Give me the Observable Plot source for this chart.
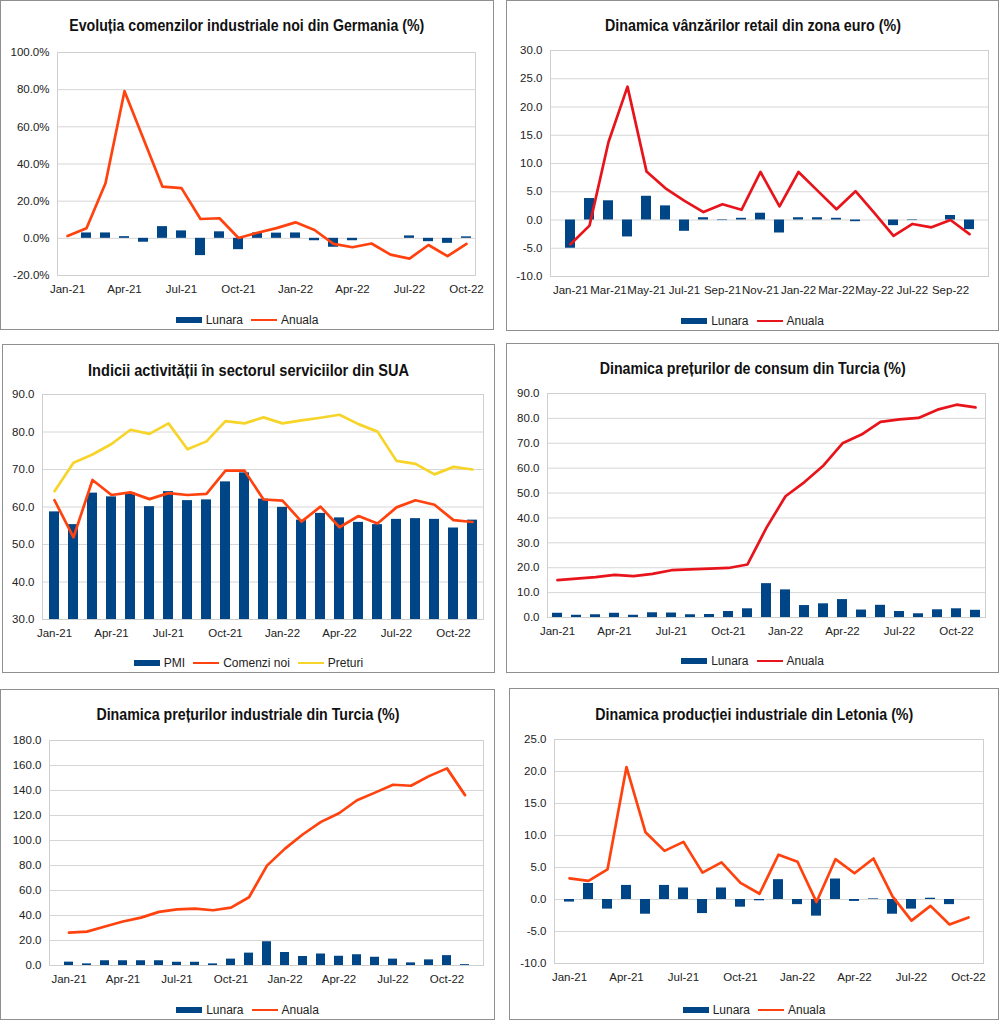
<!DOCTYPE html>
<html>
<head>
<meta charset="utf-8">
<script src="https://cdn.jsdelivr.net/npm/d3@7"></script>
<script src="https://cdn.jsdelivr.net/npm/@observablehq/plot@0.6"></script>
<style>
  html, body { margin: 0; padding: 0; background: #fff; }
  body { position: relative; width: 1000px; height: 1020px; overflow: hidden; font-family: "Liberation Sans", Arial, sans-serif; }
  .panel { position: absolute; border: 1px solid #8f8f8f; box-sizing: border-box; }
  .title { position: absolute; text-align: center; white-space: nowrap; }
  .title span { display: inline-block; font-family: "Liberation Sans", Arial, sans-serif; font-weight: bold; font-size: 16.5px; color: #111; line-height: 20px; transform-origin: 50% 50%; }
  .legend { position: absolute; display: flex; justify-content: center; align-items: center; font-size: 12px; color: #222; line-height: 14px; white-space: nowrap; }
  .legend .item { display: flex; align-items: center; margin: 0 4px; }
  .legend .sw { display: inline-block; width: 26px; margin-right: 4px; }
  .plot { position: absolute; }
</style>
</head>
<body>
<script>
// ---------- categories ----------
const months = ["Jan-21","Feb-21","Mar-21","Apr-21","May-21","Jun-21","Jul-21","Aug-21","Sep-21","Oct-21","Nov-21","Dec-21",
                "Jan-22","Feb-22","Mar-22","Apr-22","May-22","Jun-22","Jul-22","Aug-22","Sep-22","Oct-22","Nov-22"];
const months22 = months.slice(0, 22);
const ticksQuarter = ["Jan-21","Apr-21","Jul-21","Oct-21","Jan-22","Apr-22","Jul-22","Oct-22"];
const ticksBimonth = ["Jan-21","Mar-21","May-21","Jul-21","Sep-21","Nov-21","Jan-22","Mar-22","May-22","Jul-22","Sep-22"];

// ---------- 1. Germania: comenzi industriale (%) ----------
const germLunara = [null, 2.9, 2.9, 0.9, -2.1, 6.3, 4.0, -9.3, 3.5, -6.1, 2.9, 2.8, 2.9, -1.3, -4.8, -1.3, 0, 0, 1.3, -1.8, -2.7, 0.8];
const germAnuala = [1.3, 5.4, 29.6, 79.2, 53.5, 27.8, 27.0, 10.4, 10.8, 0.2, 3.0, 5.5, 8.6, 4.5, -3.0, -4.8, -2.8, -8.8, -10.9, -3.6, -9.6, -3.0];

// ---------- 2. Zona euro: vanzari retail (%) ----------
const euroLunara = [-5.0, 3.8, 3.4, -3.0, 4.2, 2.5, -2.0, 0.4, -0.1, 0.3, 1.2, -2.3, 0.4, 0.4, 0.3, -0.3, 0, -1.0, -0.1, 0, 0.8, -1.7];
const euroAnuala = [-4.3, -1.0, 13.8, 23.6, 8.6, 5.6, 3.4, 1.4, 2.8, 1.8, 8.5, 2.4, 8.5, 5.2, 1.9, 5.1, 1.2, -2.8, -0.7, -1.3, 0.0, -2.5];

// ---------- 3. SUA: servicii ----------
const usPMI     = [58.7, 55.3, 63.7, 62.7, 63.8, 60.1, 64.1, 61.7, 61.9, 66.7, 69.1, 62.1, 59.9, 56.5, 58.3, 57.1, 55.9, 55.3, 56.7, 56.9, 56.7, 54.4, 56.5];
const usComenzi = [61.8, 51.9, 67.2, 63.2, 63.9, 62.1, 63.7, 63.2, 63.5, 69.7, 69.7, 62.0, 61.7, 56.1, 60.1, 54.6, 57.6, 55.6, 59.9, 61.8, 60.6, 56.5, 56.0];
const usPreturi = [64.2, 71.8, 74.0, 76.8, 80.6, 79.5, 82.3, 75.4, 77.5, 82.9, 82.3, 83.9, 82.3, 83.1, 83.8, 84.6, 82.1, 80.1, 72.3, 71.5, 68.7, 70.7, 70.0];

// ---------- 4. Turcia: preturi de consum (%) ----------
const trCpiLunara = [1.7, 0.9, 1.1, 1.7, 0.9, 1.9, 1.8, 1.1, 1.2, 2.4, 3.5, 13.6, 11.1, 4.8, 5.5, 7.2, 3.0, 4.9, 2.4, 1.5, 3.1, 3.5, 2.9];
const trCpiAnuala = [15.0, 15.6, 16.2, 17.1, 16.6, 17.5, 19.0, 19.3, 19.6, 19.9, 21.3, 36.1, 48.7, 54.4, 61.1, 70.0, 73.5, 78.6, 79.6, 80.2, 83.5, 85.5, 84.4];

// ---------- 5. Turcia: preturi industriale (%) ----------
const trPpiLunara = [2.7, 1.3, 3.8, 3.8, 3.8, 3.8, 2.6, 2.6, 1.3, 5.1, 9.9, 19.0, 10.4, 7.2, 9.2, 7.4, 8.6, 6.6, 5.1, 2.1, 4.5, 7.9, 0.7];
const trPpiAnuala = [26.3, 27.1, 31.2, 35.2, 38.3, 42.9, 44.9, 45.5, 44.2, 46.3, 54.6, 79.9, 93.5, 105.0, 114.9, 121.8, 132.2, 138.3, 144.6, 143.8, 151.5, 157.7, 136.3];

// ---------- 6. Letonia: productie industriala (%) ----------
const lvLunara = [-0.4, 2.5, -1.5, 2.2, -2.3, 2.2, 1.8, -2.2, 1.8, -1.2, -0.2, 3.1, -0.8, -2.6, 3.2, -0.3, 0.1, -2.3, -1.5, 0.2, -0.8, 0];
const lvAnuala = [3.3, 2.9, 4.7, 20.7, 10.5, 7.6, 9.0, 4.2, 5.8, 2.6, 0.9, 7.0, 5.9, -0.4, 6.3, 4.1, 6.4, 0.5, -3.3, -1.0, -3.9, -2.8];

// ---------- colours ----------
const BLUE = "#004586", ORANGE = "#ff420e", RED = "#e8141b", YELLOW = "#f7d42a";

const fmt1 = d => d.toFixed(1);
const fmtPct = d => d.toFixed(1) + "%";

const panels = [
  {
    title: "Evoluția comenzilor industriale noi din Germania (%)", titleW: 355,
    box: {x: 0, y: 0, w: 494, h: 330}, titleY: 25, legendY: 320,
    frame: {l: 57, r: 475, t: 52, b: 275},
    cats: months22, xticks: ticksQuarter, yDomain: [-20, 100], yTicks: [-20, 0, 20, 40, 60, 80, 100], yFmt: fmtPct,
    bars: [{name: "Lunara", values: germLunara, color: BLUE}],
    lines: [{name: "Anuala", values: germAnuala, color: ORANGE}]
  },
  {
    title: "Dinamica vânzărilor retail din zona euro (%)", titleW: 296,
    box: {x: 506, y: 0, w: 493, h: 331}, titleY: 25, legendY: 321,
    frame: {l: 550, r: 988, t: 50, b: 276},
    cats: months22, xticks: ticksBimonth, yDomain: [-10, 30], yTicks: [-10, -5, 0, 5, 10, 15, 20, 25, 30], yFmt: fmt1,
    bars: [{name: "Lunara", values: euroLunara, color: BLUE}],
    lines: [{name: "Anuala", values: euroAnuala, color: RED}]
  },
  {
    title: "Indicii activității în sectorul serviciilor din SUA", titleW: 321,
    box: {x: 2, y: 344, w: 493, h: 329}, titleY: 370, legendY: 663,
    frame: {l: 42, r: 483, t: 394, b: 619},
    cats: months, xticks: ticksQuarter, yDomain: [30, 90], yTicks: [30, 40, 50, 60, 70, 80, 90], yFmt: fmt1,
    bars: [{name: "PMI", values: usPMI, color: BLUE}],
    lines: [{name: "Comenzi noi", values: usComenzi, color: ORANGE}, {name: "Preturi", values: usPreturi, color: YELLOW}]
  },
  {
    title: "Dinamica prețurilor de consum din Turcia (%)", titleW: 306,
    box: {x: 506, y: 343, w: 493, h: 330}, titleY: 368, legendY: 661,
    frame: {l: 547, r: 985, t: 393, b: 617},
    cats: months, xticks: ticksQuarter, yDomain: [0, 90], yTicks: [0, 10, 20, 30, 40, 50, 60, 70, 80, 90], yFmt: fmt1,
    bars: [{name: "Lunara", values: trCpiLunara, color: BLUE}],
    lines: [{name: "Anuala", values: trCpiAnuala, color: RED}]
  },
  {
    title: "Dinamica prețurilor industriale din Turcia (%)", titleW: 303,
    box: {x: 0, y: 689, w: 495, h: 331}, titleY: 714, legendY: 1010,
    frame: {l: 49, r: 483, t: 740, b: 965},
    cats: months, xticks: ticksQuarter, yDomain: [0, 180], yTicks: [0, 20, 40, 60, 80, 100, 120, 140, 160, 180], yFmt: fmt1,
    bars: [{name: "Lunara", values: trPpiLunara, color: BLUE}],
    lines: [{name: "Anuala", values: trPpiAnuala, color: ORANGE}]
  },
  {
    title: "Dinamica producției industriale din Letonia (%)", titleW: 318,
    box: {x: 509, y: 688, w: 490, h: 332}, titleY: 714, legendY: 1010,
    frame: {l: 554, r: 983, t: 739, b: 963},
    cats: months22, xticks: ticksQuarter, yDomain: [-10, 25], yTicks: [-10, -5, 0, 5, 10, 15, 20, 25], yFmt: fmt1,
    bars: [{name: "Lunara", values: lvLunara, color: BLUE}],
    lines: [{name: "Anuala", values: lvAnuala, color: ORANGE}]
  }
];

function el(tag, cls, style) {
  const e = document.createElement(tag);
  if (cls) e.className = cls;
  if (style) Object.assign(e.style, style);
  return e;
}

for (const p of panels) {
  const {box, frame} = p;
  // border
  document.body.appendChild(el("div", "panel", {left: box.x + "px", top: box.y + "px", width: box.w + "px", height: box.h + "px"}));
  // title (condensed to match the narrow original typeface)
  const t = el("div", "title", {left: box.x + "px", width: box.w + "px", top: (p.titleY - 10) + "px"});
  const span = el("span");
  span.textContent = p.title;
  t.appendChild(span);
  document.body.appendChild(t);
  const w = span.getBoundingClientRect().width;
  if (w > 0) span.style.transform = `scaleX(${p.titleW / w})`;

  // chart
  const mt = 10, mb = 30;
  const base = Math.max(0, p.yDomain[0]);
  const marks = [
    Plot.gridY(p.yTicks, {stroke: "#d6d6d6", strokeOpacity: 1}),
    Plot.frame({stroke: "#cfcfcf"}),
    Plot.axisY(p.yTicks, {tickSize: 0, tickPadding: 8, tickFormat: p.yFmt, fill: "#222"}),
    Plot.axisX(p.xticks, {tickSize: 0, tickPadding: 9, fill: "#222"})
  ];
  for (const b of p.bars) {
    marks.push(Plot.barY(b.values, {x: (d, i) => p.cats[i], y1: () => base, y2: d => d, fill: b.color,
      filter: d => d != null && d !== 0}));
  }
  for (const l of p.lines) {
    marks.push(Plot.lineY(l.values, {x: (d, i) => p.cats[i], y: d => d, stroke: l.color, strokeWidth: 2.7,
      strokeLinejoin: "round", strokeLinecap: "round"}));
  }
  const chart = Plot.plot({
    width: box.w,
    height: (frame.b - frame.t) + mt + mb,
    marginLeft: frame.l - box.x,
    marginRight: box.x + box.w - frame.r,
    marginTop: mt,
    marginBottom: mb,
    style: {fontSize: "11.5px", fontFamily: "'Liberation Sans', Arial, sans-serif", color: "#222", background: "transparent", overflow: "visible"},
    x: {type: "band", domain: p.cats, paddingInner: 0.5, paddingOuter: 0.25, axis: null},
    y: {domain: p.yDomain, axis: null},
    marks
  });
  const wrap = el("div", "plot", {left: box.x + "px", top: (frame.t - mt) + "px"});
  wrap.appendChild(chart);
  document.body.appendChild(wrap);

  // legend
  const lg = el("div", "legend", {left: box.x + "px", width: box.w + "px", top: (p.legendY - 7) + "px"});
  for (const b of p.bars) {
    const it = el("div", "item");
    it.appendChild(el("span", "sw", {height: "6px", background: b.color}));
    it.appendChild(document.createTextNode(b.name));
    lg.appendChild(it);
  }
  for (const l of p.lines) {
    const it = el("div", "item");
    it.appendChild(el("span", "sw", {height: "2.5px", background: l.color}));
    it.appendChild(document.createTextNode(l.name));
    lg.appendChild(it);
  }
  document.body.appendChild(lg);
}
</script>
</body>
</html>
